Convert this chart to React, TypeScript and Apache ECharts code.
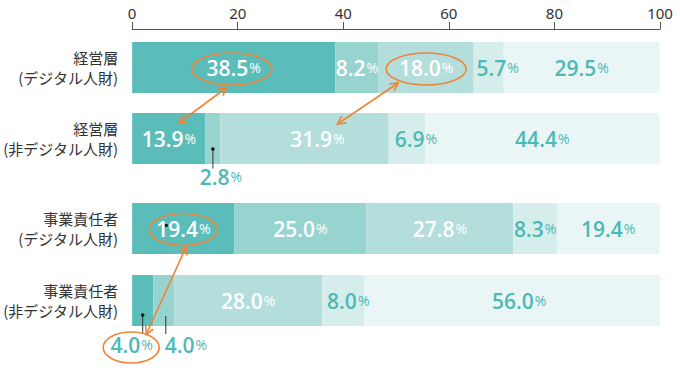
import React, { useEffect, useRef } from 'react';
import * as echarts from 'echarts';

const rowLabels = [
  '経営層\n(デジタル人財)',
  '経営層\n(非デジタル人財)',
  '事業責任者\n(デジタル人財)',
  '事業責任者\n(非デジタル人財)',
];
const seg1 = [38.5, 13.9, 19.4, 4.0];
const seg2 = [8.2, 2.8, 25.0, 4.0];
const seg3 = [18.0, 31.9, 27.8, 28.0];
const seg4 = [5.7, 6.9, 8.3, 8.0];
const seg5 = [29.5, 44.4, 19.4, 56.0];
const xMin = 0;
const xMax = 100;
const xStep = 20;

const segs = [seg1, seg2, seg3, seg4, seg5];
const segColors = ['#5bbdb9', '#97d3cf', '#b4dedb', '#d5edeb', '#eaf6f6'];
const labelColors = ['#ffffff', '#ffffff', '#ffffff', '#4db9b5', '#4db9b5'];
const TEAL = '#4db9b5';
const ORANGE = '#ef8536';

// label style tweaks keyed by "row-seg"
const labelTweaks: Record<string, any> = {
  '1-1': { position: 'bottom', distance: 2, offset: [8, 0], color: TEAL },
  '3-0': { position: 'bottom', distance: 8, offset: [-11, 0], color: TEAL },
  '3-1': { position: 'bottom', distance: 8, offset: [22, 0], color: TEAL },
  '0-3': { offset: [9, 0] },
  '1-2': { offset: [13, 0] },
  '1-3': { offset: [9, 0] },
  '3-3': { offset: [5, 0] },
  '3-4': { offset: [7, 0] },
};

const NUM_FONT = "'Open Sans', 'Noto Sans', sans-serif";

export default function App() {
  const ref = useRef<HTMLDivElement>(null);
  useEffect(() => {
    if (!ref.current) return;
    const chart = echarts.init(ref.current, undefined, { renderer: 'svg' });

    const series: any[] = [];
    for (let g = 0; g < 2; g++) {
      for (let s = 0; s < 5; s++) {
        const data = segs[s].slice(g * 2, g * 2 + 2).map((v, i) => {
          const row = g * 2 + i;
          const tw = labelTweaks[`${row}-${s}`];
          return tw ? { value: v, label: tw } : { value: v };
        });
        series.push({
          type: 'bar',
          name: `s${s}`,
          stack: `g${g}`,
          xAxisIndex: g,
          yAxisIndex: g,
          barWidth: 51,
          itemStyle: { color: segColors[s] },
          label: {
            show: true,
            position: 'inside',
            color: labelColors[s],
            formatter: (p: any) => `{n|${Number(p.value).toFixed(1)}}{p|%}`,
            rich: {
              n: { fontSize: 21, fontFamily: NUM_FONT, fontWeight: 600 },
              p: { fontSize: 14, fontFamily: NUM_FONT, fontWeight: 400, padding: [0, 0, 1, 1] },
            },
          },
          emphasis: { disabled: true },
          data,
        });
      }
    }

    const yAxisBase = {
      type: 'category',
      inverse: true,
      axisLine: { show: false },
      axisTick: { show: false },
      axisLabel: {
        margin: 14,
        color: '#333',
        fontSize: 15,
        lineHeight: 20,
        fontFamily: "'Noto Sans CJK JP', sans-serif",
        align: 'right',
      },
    };

    chart.setOption({
      animation: false,
      grid: [
        { left: 131, right: 20, top: 32, height: 142 },
        { left: 131, right: 20, top: 192.5, height: 144 },
      ],
      xAxis: [
        {
          type: 'value',
          gridIndex: 0,
          position: 'top',
          offset: 3,
          min: xMin,
          max: xMax,
          interval: xStep,
          axisLine: { show: true, lineStyle: { color: '#555', width: 1 } },
          axisTick: { show: true, length: 7, lineStyle: { color: '#555' } },
          splitLine: { show: false },
          axisLabel: { color: '#333', fontSize: 15, margin: 9, fontFamily: "'Noto Sans', sans-serif" },
        },
        { type: 'value', gridIndex: 1, min: xMin, max: xMax, interval: xStep, show: false, splitLine: { show: false } },
      ],
      yAxis: [
        { ...yAxisBase, gridIndex: 0, data: rowLabels.slice(0, 2) },
        { ...yAxisBase, gridIndex: 1, data: rowLabels.slice(2, 4) },
      ],
      series,
    });

    const P = (row: number, xv: number): number[] =>
      chart.convertToPixel({ gridIndex: row < 2 ? 0 : 1 } as any, [xv, row % 2]) as number[];
    const add = (a: number[], d: number[]) => [a[0] + d[0], a[1] + d[1]];
    const cum = (row: number, s: number) => {
      let t = 0;
      for (let k = 0; k < s; k++) t += segs[k][row];
      return t;
    };
    const segCenter = (row: number, s: number) => P(row, cum(row, s) + segs[s][row] / 2);

    const e1 = add(segCenter(0, 0), [-2, 1.5]);
    const e2 = add(segCenter(0, 2), [0, 1.5]);
    const e3 = add(segCenter(2, 0), [0, 1]);
    const e4 = add(segCenter(3, 0), [-11.5, 47]);

    const g: any[] = [];
    const ell = (c: number[], rx: number, ry: number) =>
      g.push({
        type: 'ellipse',
        shape: { cx: c[0], cy: c[1], rx, ry },
        style: { fill: 'none', stroke: ORANGE, lineWidth: 1.6 },
        z: 100,
      });
    const head = (tip: number[], from: number[]) => {
      const dx = tip[0] - from[0];
      const dy = tip[1] - from[1];
      const len = Math.hypot(dx, dy);
      const ux = dx / len;
      const uy = dy / len;
      const L = 9;
      const a = (28 * Math.PI) / 180;
      const r = (ang: number) => [
        tip[0] - L * (ux * Math.cos(ang) - uy * Math.sin(ang)),
        tip[1] - L * (ux * Math.sin(ang) + uy * Math.cos(ang)),
      ];
      g.push({
        type: 'polyline',
        shape: { points: [r(a), tip, r(-a)] },
        style: { fill: 'none', stroke: ORANGE, lineWidth: 1.6 },
        z: 100,
      });
    };
    const arrow = (a: number[], b: number[]) => {
      g.push({
        type: 'line',
        shape: { x1: a[0], y1: a[1], x2: b[0], y2: b[1] },
        style: { stroke: ORANGE, lineWidth: 1.6 },
        z: 100,
      });
      head(a, b);
      head(b, a);
    };

    ell(e1, 40, 16);
    ell(e2, 40, 16);
    ell(e3, 34, 16);
    ell(e4, 28, 15.5);

    arrow(add(e1, [-5, 18.5]), add(segCenter(1, 0), [10, -15.5]));
    arrow(add(e2, [-28, 14]), add(segCenter(1, 2), [33, -14.5]));
    arrow(add(e3, [3, 17]), add(e4, [15, -13]));

    const leader = (p: number[], y1: number, y2: number, dot: boolean) => {
      g.push({
        type: 'line',
        shape: { x1: p[0], y1: p[1] + y1, x2: p[0], y2: p[1] + y2 },
        style: { stroke: '#333', lineWidth: 1 },
        z: 90,
      });
      if (dot)
        g.push({
          type: 'circle',
          shape: { cx: p[0], cy: p[1] + y1, r: 1.8 },
          style: { fill: '#111' },
          z: 91,
        });
    };
    leader(segCenter(1, 1), 10.5, 30, true);
    leader(segCenter(3, 0), 14.5, 33, true);
    leader(add(segCenter(3, 1), [2, 0]), 15.5, 33.5, false);
    const d = add(segCenter(2, 0), [-17, -3]);
    g.push({ type: 'circle', shape: { cx: d[0], cy: d[1], r: 1.6 }, style: { fill: '#111' }, z: 91 });

    chart.setOption({ graphic: g });

    return () => chart.dispose();
  }, []);
  return <div ref={ref} style={{ width: 680, height: 375, position: 'absolute', left: 0, top: 0 }} />;
}
